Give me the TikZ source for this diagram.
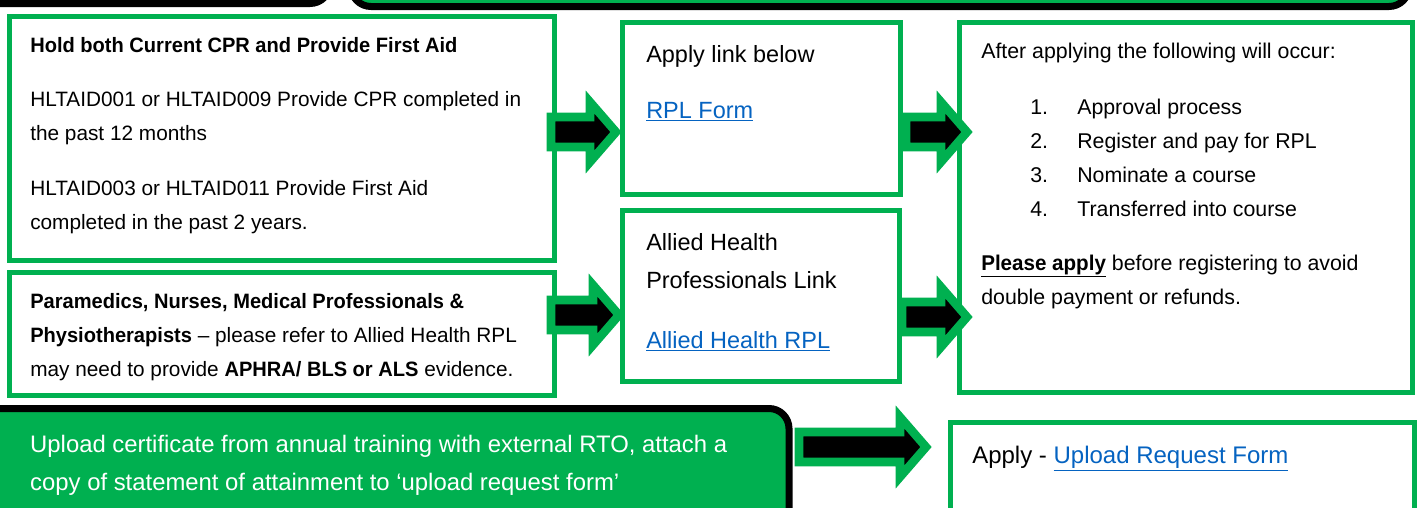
\documentclass[tikz,border=0pt]{standalone}
\usepackage{fontspec}
\setmainfont{Liberation Sans}[BoldFeatures={FakeStretch=0.965}]
\usetikzlibrary{positioning,fit,calc}

\definecolor{rplgreen}{HTML}{00B050}
\definecolor{linkblue}{HTML}{0563C1}

% block arrow from a start point to a tip point (same height)
\newcommand{\flowarrow}[2]{%
  \draw[flow arrow] let \p1=#1, \p2=#2 in
    (\x1,\y1+11.25pt) -- (\x2-19.5pt,\y1+11.25pt) -- (\x2-19.5pt,\y1+22.5pt)
    -- (\x2,\y1) -- (\x2-19.5pt,\y1-22.5pt) -- (\x2-19.5pt,\y1-11.25pt)
    -- (\x1,\y1-11.25pt) -- cycle;}
\newcommand{\weblink}[1]{\textcolor{linkblue}{\underline{#1}}}

\begin{document}
\begin{tikzpicture}[x=0.75pt, y=-0.75pt,
    green box/.style={draw=rplgreen, line width=3.75pt, fill=white, inner sep=0pt},
    dark box/.style={draw=black, line width=5.25pt, fill=rplgreen, rounded corners=15pt, inner sep=0pt},
    flow arrow/.style={draw=rplgreen, fill=black, line width=6.4pt, line join=miter},
    box text/.style={anchor=north west, inner sep=0pt, align=left}]

  \useasboundingbox (0,0) rectangle (1421,507);
  \clip (0,0) rectangle (1421,507);
  \fill[white] (0,0) rectangle (1421,507);

  % banners cut off at the top
  \node[dark box, fit={(-20,-50) (330,3.5)}] (topleft) {};
  \node[dark box, fit={(351,-50) (1409,6.5)}] (topright) {};

  % boxes
  \node[green box, fit={(9.5,16.5) (554.5,260.5)}] (cpr) {};
  \node[green box, fit={(9.5,272.5) (554.5,395.5)}] (allied) {};
  \node[green box, fit={(622.5,22.5) (900.5,194.5)}] (rplform) {};
  \node[green box, fit={(622.5,210.5) (899.5,381.5)}] (alliedlink) {};
  \node[green box, fit={(959.5,22.5) (1412.5,392.5)}] (process) {};
  \node[dark box, fit={(-20,408.5) (789,540)}] (upload) {};
  \node[green box, fit={(950.5,422.5) (1414.5,540)}] (request) {};

  % texts
  \node[box text, font=\fontsize{15.6}{25.5}\selectfont,
        below right=17.25pt and 17.25pt of cpr.north west] (cprtext)
    {\textbf{Hold both Current CPR and Provide First Aid}\\[15pt]
     HLTAID001 or HLTAID009 Provide CPR completed in\\
     the past 12 months\\[15.75pt]
     HLTAID003 or HLTAID011 Provide First Aid\\
     completed in the past 2 years.};
  \node[box text, font=\fontsize{15.6}{25.5}\selectfont,
        below right=17.25pt and 17.25pt of allied.north west] (alliedtext)
    {\textbf{Paramedics, Nurses, Medical Professionals \&}\\
     \textbf{Physiotherapists} -- please refer to Allied Health RPL\\
     may need to provide \textbf{APHRA/ BLS or ALS} evidence.};
  \node[box text, font=\fontsize{17.6}{28.5}\selectfont,
        below right=18.75pt and 19.5pt of rplform.north west] (rplformtext)
    {Apply link below\\[13.5pt]
     \weblink{RPL Form}};
  \node[box text, font=\fontsize{17.6}{28.5}\selectfont,
        below right=18.75pt and 19.5pt of alliedlink.north west] (alliedlinktext)
    {Allied Health\\
     Professionals Link\\[16.5pt]
     \weblink{Allied Health RPL}};
  \node[box text, font=\fontsize{16}{25.5}\selectfont,
        below right=17pt and 18pt of process.north west] (processtext)
    {After applying the following will occur:\\[16.5pt]
     \hspace*{36.75pt}\makebox[35.25pt][l]{1.}Approval process\\
     \hspace*{36.75pt}\makebox[35.25pt][l]{2.}Register and pay for RPL\\
     \hspace*{36.75pt}\makebox[35.25pt][l]{3.}Nominate a course\\
     \hspace*{36.75pt}\makebox[35.25pt][l]{4.}Transferred into course\\[15pt]
     \underline{\textbf{Please apply}} before registering to avoid\\
     double payment or refunds.};
  \node[box text, text=white, font=\fontsize{17.9}{28.5}\selectfont,
        below right=22.1pt and 40.1pt of upload.north west] (uploadtext)
    {Upload certificate from annual training with external RTO, attach a\\
     copy of statement of attainment to ‘upload request form’};
  \node[box text, font=\fontsize{18}{28.5}\selectfont,
        below right=19.5pt and 18pt of request.north west] (requesttext)
    {Apply - \weblink{Upload Request Form}};

  % arrows
  \flowarrow{($(cpr.east |- 0,132)+(-6,0)$)}{($(rplform.west |- 0,132)+(-4,0)$)}
  \flowarrow{($(rplform.east |- 0,132)+(3,0)$)}{($(process.west |- 0,132)+(10,0)$)}
  \flowarrow{($(allied.east |- 0,315)+(-6,0)$)}{($(alliedlink.west |- 0,315)+(-1,0)$)}
  \flowarrow{($(alliedlink.east |- 0,317)+(0,0)$)}{($(process.west |- 0,317)+(10,0)$)}
  \flowarrow{($(upload.east |- 0,447)+(6.5,0)$)}{($(request.west |- 0,447)+(-22,0)$)}

\end{tikzpicture}
\end{document}
